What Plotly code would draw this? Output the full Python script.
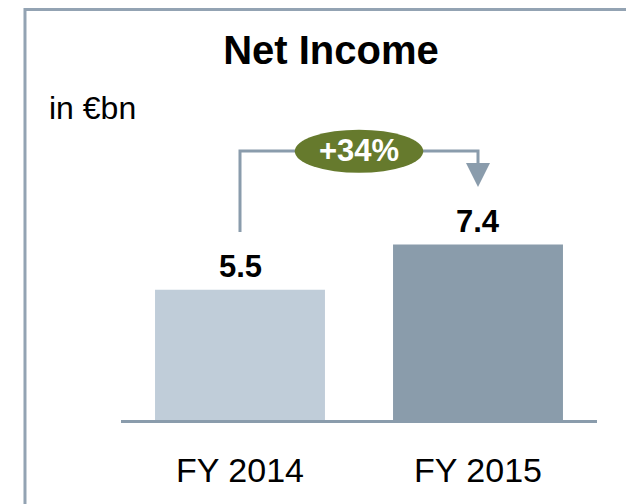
import plotly.graph_objects as go

# data
years = ["FY 2014", "FY 2015"]
net_income = [5.5, 7.4]
value_labels = ["5.5", "7.4"]
growth_label = "+34%"

FONT = "Liberation Sans, Arial, sans-serif"
BAR_COLORS = ["#c0cdd9", "#8a9cab"]
LINE_COLOR = "#8a9cac"
OLIVE = "#667a2d"
PAGE_OFFSET = 8  # default body margin of the html page

fig = go.Figure()
fig.add_trace(go.Bar(
    x=years, y=net_income, width=0.714,
    marker=dict(color=BAR_COLORS, line=dict(width=0)),
    hoverinfo="skip",
))

# value labels above bars
annotations = []
for yr, v, lbl in zip(years, net_income, value_labels):
    annotations.append(dict(
        x=yr, y=v, text=f"<b>{lbl}</b>", showarrow=False,
        yanchor="bottom", yshift=4,
        font=dict(size=31, color="#000000", family=FONT),
    ))

# growth connector: up from first bar label, across, down to second bar
top = max(net_income) + 3.95
left_bottom = net_income[0] + 2.43
arrow_tip = net_income[1] + 2.43
fig.add_trace(go.Scatter(
    x=[years[0], years[0], years[1], years[1]],
    y=[left_bottom, top, top, arrow_tip + 0.6],
    mode="lines", line=dict(color=LINE_COLOR, width=3),
    hoverinfo="skip",
))
annotations.append(dict(
    x=years[1], y=arrow_tip, ax=years[1], ay=arrow_tip + 0.8,
    xref="x", yref="y", axref="x", ayref="y",
    showarrow=True, arrowhead=2, arrowsize=1.6, arrowwidth=3,
    arrowcolor=LINE_COLOR, text="",
))

# olive ellipse with growth label
fig.add_shape(
    type="circle", xref="x", yref="y",
    x0=0.5 - 0.27, x1=0.5 + 0.27,
    y0=top - 0.92, y1=top + 0.9,
    fillcolor=OLIVE, line=dict(width=0), layer="above",
)
annotations.append(dict(
    x=0.5, y=top, xref="x", yref="y", text=f"<b>{growth_label}</b>",
    showarrow=False, font=dict(size=31, color="white", family=FONT),
))

# unit label
annotations.append(dict(
    x=-0.155, y=0.975, xref="paper", yref="paper", text="in €bn",
    showarrow=False, xanchor="left", yanchor="middle",
    font=dict(size=32, color="#000000", family=FONT),
))

# outer frame (top edge kept just inside the figure)
fig.add_shape(
    type="rect", xref="paper", yref="paper",
    x0=-0.2017, x1=1.3, y0=-0.5, y1=1.2828,
    line=dict(color="#93a3b3", width=3), fillcolor="rgba(0,0,0,0)",
)

fig.update_layout(
    width=634, height=504,
    margin=dict(l=121 - PAGE_OFFSET, r=37 + PAGE_OFFSET,
                t=100 - PAGE_OFFSET, b=84 + PAGE_OFFSET, autoexpand=False),
    paper_bgcolor="white", plot_bgcolor="white",
    showlegend=False,
    title=dict(
        text="<b>Net Income</b>", x=(331 - PAGE_OFFSET) / 634,
        y=1 - (50 - PAGE_OFFSET) / 504,
        xref="container", yref="container", xanchor="center", yanchor="middle",
        font=dict(size=40, color="#000000", family=FONT),
    ),
    annotations=annotations,
    xaxis=dict(
        range=[-0.5, 1.5], showline=True, linecolor=LINE_COLOR, linewidth=2.5,
        showgrid=False, zeroline=False, ticks="", ticklabelstandoff=18,
        automargin=False,
        tickfont=dict(size=34, color="#000000", family=FONT),
        fixedrange=True,
    ),
    yaxis=dict(
        range=[0, 13.5], visible=False, fixedrange=True, automargin=False,
    ),
)

fig.write_html("out.html")
